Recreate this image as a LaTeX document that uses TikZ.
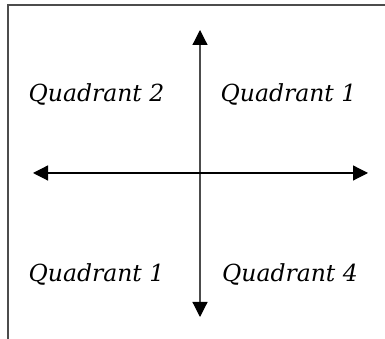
\documentclass[tikz,border=0pt]{standalone}
\usepackage{fontspec}
\setmainfont{DejaVu Serif}
\usetikzlibrary{arrows.meta}
\begin{document}
\begin{tikzpicture}[x=1pt,y=1pt,
  quad/.style={inner sep=0pt, font=\fontsize{23.5}{26}\selectfont\itshape},
  axis/.style={line width=1.2pt, -{Triangle[length=15pt,width=15pt,color=black,fill=black]}},
  frame/.style={draw=black!70, line width=1.1pt}]
\useasboundingbox (0,0) rectangle (385,339);
\coordinate (fbl) at (8,0);
\coordinate (ftl) at (8,334);
\coordinate (ftr) at (385,334);
\draw[frame] (fbl) -- (ftl) -- (ftr);
\coordinate (o) at (200,166);
\coordinate (top) at (200,309);
\coordinate (bot) at (200,22);
\coordinate (lft) at (33,166);
\coordinate (rgt) at (368,166);
\draw[axis, draw=black!70] (o) -- (top);
\draw[axis, draw=black!70] (o) -- (bot);
\draw[axis] (o) -- (lft);
\draw[axis] (o) -- (rgt);
\node[quad] (q2) at (96.5,245) {Quadrant 2};
\node[quad] (q1) at (288.5,245) {Quadrant 1};
\node[quad] (q3) at (96.5,65) {Quadrant 1};
\node[quad] (q4) at (290,65) {Quadrant 4};
\end{tikzpicture}
\end{document}
